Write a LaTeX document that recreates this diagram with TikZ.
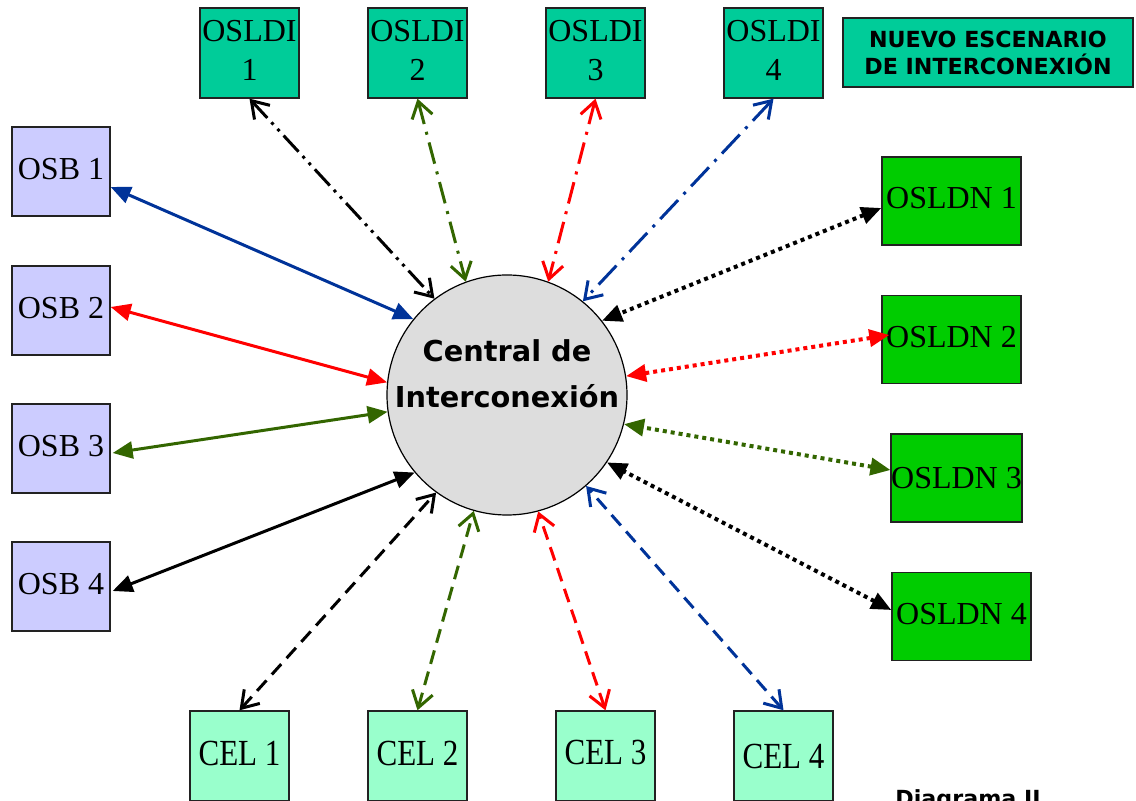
\documentclass[tikz,border=0pt]{standalone}
\usepackage{fontspec}
\setmainfont{Liberation Serif}
\newfontfamily\sansb{DejaVu Sans}
\usetikzlibrary{arrows.meta,calc}

\definecolor{osldifill}{HTML}{00CC99}
\definecolor{osbfill}{HTML}{CCCCFF}
\definecolor{osldnfill}{HTML}{00CC00}
\definecolor{celfill}{HTML}{99FFCC}
\definecolor{hubfill}{HTML}{DDDDDD}
\definecolor{lnblue}{HTML}{003399}
\definecolor{lnred}{HTML}{FF0000}
\definecolor{lngreen}{HTML}{336600}
\definecolor{boxline}{HTML}{222222}

% box label, lifted by #1
\newcommand\lifted[2]{\raisebox{#1}{\begin{tabular}{@{}c@{}}#2\end{tabular}}}
% taller, narrow lettering of the cellular boxes
\newcommand\tall[2]{\raisebox{#1}{\scalebox{0.97}[1.15]{#2}}}

\begin{document}
\begin{tikzpicture}[x=0.5pt,y=-0.5pt,
  box/.style={draw=boxline, line width=0.7pt, inner sep=0pt, align=center,
    font=\fontsize{16}{19.5}\selectfont},
  osldi/.style={box, fill=osldifill, minimum width=49.5pt, minimum height=45pt},
  osb/.style={box, fill=osbfill, minimum width=49pt, minimum height=44.5pt},
  osldn/.style={box, fill=osldnfill, minimum width=69.5pt, minimum height=44pt},
  cel/.style={box, fill=celfill, minimum width=49.5pt, minimum height=45pt},
  filltip/.tip={Triangle[length=10pt,width=8.5pt]},
  opentip/.tip={Straight Barb[length=8pt,width=10.5pt]},
  solidlink/.style={line width=1.5pt, filltip-filltip},
  dotlink/.style={line width=2pt, dash pattern=on 2pt off 2pt, filltip-filltip},
  dashlink/.style={line width=1.5pt, dash pattern=on 7pt off 4pt, opentip-opentip},
  dashdotlink/.style={line width=1.5pt, dash pattern=on 11pt off 4pt on 1.5pt off 4pt, opentip-opentip},
  dashdotdotlink/.style={line width=1.5pt, dash pattern=on 11pt off 3pt on 1.5pt off 3pt on 1.5pt off 3pt, opentip-opentip}
]
\useasboundingbox (0,0) rectangle (1136,801);

% central exchange
\node[circle, draw=black, line width=0.6pt, fill=hubfill, minimum size=120pt, inner sep=0pt] (hub) at (507,395) {};
\node[align=center, font=\sansb\bfseries\fontsize{14.4}{23}\selectfont] (hubtext) at (507,374) {Central de\\Interconexión};

% international long-distance operators
\node[osldi] (osldi1) at (249.5,53) {\lifted{0.5pt}{OSLDI\\1}};
\node[osldi] (osldi2) at (417.5,53) {\lifted{-1pt}{OSLDI\\2}};
\node[osldi] (osldi3) at (595.5,53) {\lifted{3pt}{OSLDI\\3}};
\node[osldi] (osldi4) at (773.5,53) {\lifted{1pt}{OSLDI\\4}};

% heading
\node[draw=boxline, line width=0.7pt, fill=osldifill, minimum width=145pt, minimum height=34.5pt,
  inner sep=0pt, align=center, font=\sansb\bfseries\fontsize{11.1}{13.5}\selectfont] (title) at (988,52.5)
  {NUEVO ESCENARIO\\DE INTERCONEXIÓN};

% basic service operators
\node[osb] (osb1) at (61,171.5) {\lifted{1.5pt}{OSB 1}};
\node[osb] (osb2) at (61,310.5) {\lifted{3.5pt}{OSB 2\hspace{3pt}}};
\node[osb] (osb3) at (61,448.5) {\lifted{2.5pt}{OSB 3\hspace{3pt}}};
\node[osb] (osb4) at (61,586.5) {\lifted{3pt}{OSB 4\hspace{3pt}}};

% national long-distance operators
\node[osldn] (osldn1) at (951.5,201) {\lifted{3pt}{OSLDN 1}};
\node[osldn] (osldn2) at (951.5,339.5) {\lifted{2pt}{OSLDN 2}};
\node[osldn, minimum width=64.5pt] (osldn3) at (956.5,478) {OSLDN 3};
\node[osldn] (osldn4) at (961.5,616.5) {\lifted{1.5pt}{OSLDN 4}};

% cellular operators
\node[cel] (cel1) at (239.5,756) {\tall{3pt}{CEL 1}};
\node[cel] (cel2) at (417.5,756) {\tall{3pt}{CEL 2}};
\node[cel] (cel3) at (605.5,756) {\tall{4pt}{CEL 3}};
\node[cel] (cel4) at (783.5,756) {\tall{-1pt}{CEL 4}};

\node[anchor=base west, inner sep=0pt, font=\sansb\bfseries\fontsize{11.1}{13.5}\selectfont] (caption) at (895,806) {Diagrama II};

% links to OSLDI
\draw[dashdotdotlink, black] (osldi1.south) -- (hub.127);
\draw[dashdotlink, lngreen] (osldi2.south) -- (hub.110.6);
\draw[dashdotlink, lnred] (osldi3.south) -- (hub.70.6);
\draw[dashdotlink, lnblue, dash pattern=on 13pt off 4pt on 1.5pt off 4pt] (osldi4.south) -- (hub.51.7);

% links to OSB
\draw[solidlink, lnblue] ($(osb1.east)+(0,15.5)$) -- (hub.141.4);
\draw[solidlink, lnred] ($(osb2.east)+(0,-3.5)$) -- (hub.174.8);
\draw[solidlink, lngreen] ($(osb3.east)+(2,4.5)$) -- (hub.188.5);
\draw[solidlink, black] ($(osb4.east)+(2,4.5)$) -- (hub.220.7);

% links to OSLDN
\draw[dotlink, black] ($(osldn1.west)+(0,7)$) -- (hub.38.4);
\draw[dotlink, lnred] ($(osldn2.west)+(8,-4.5)$) -- (hub.9.5);
\draw[dotlink, lngreen] ($(osldn3.west)+(0,-8)$) -- (hub.-14.9);
\draw[dotlink, black] ($(osldn4.west)+(0,-6.5)$) -- (hub.-34.6);

% links to CEL
\draw[dashlink, black] (cel1.north) -- (hub.234.7);
\draw[dashlink, lngreen] (cel2.north) -- (hub.254.3);
\draw[dashlink, lnred] (cel3.north) -- (hub.285.2);
\draw[dashlink, lnblue] (cel4.north) -- (hub.311.8);
\end{tikzpicture}
\end{document}
